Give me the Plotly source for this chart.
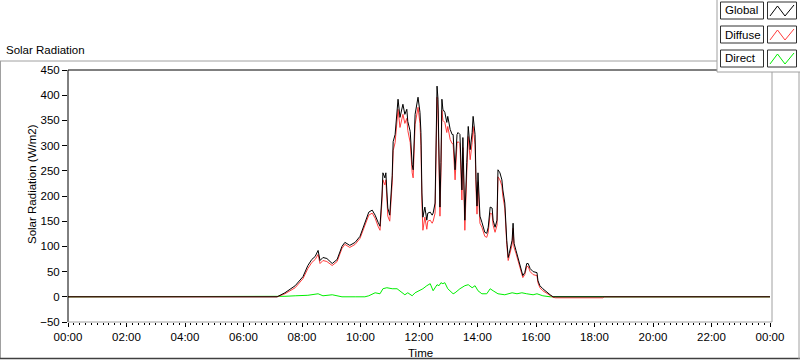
import plotly.graph_objects as go

# ---------------- data ----------------
minutes = [0, 429, 445, 466, 482, 492, 500, 507, 513, 517, 523, 531, 542, 552, 562, 568, 578, 589, 599,
           609, 617, 624, 630, 636, 640, 644, 646, 650, 652, 656, 660, 665, 667, 671, 675, 677, 681, 685,
           687, 691, 695, 697, 702, 706, 708, 712, 716, 718, 722, 724, 726, 728, 732, 736, 738, 743, 747,
           749, 753, 757, 759, 761, 763, 765, 767, 769, 773, 777, 779, 784, 788, 790, 794, 798, 800, 804,
           808, 810, 814, 818, 821, 825, 829, 831, 835, 837, 839, 841, 843, 845, 849, 855, 859, 862, 866,
           870, 872, 876, 880, 882, 886, 890, 892, 896, 900, 903, 905, 911, 913, 915, 919, 923, 927, 931,
           933, 937, 941, 944, 948, 954, 962, 964, 968, 974, 983, 989, 995, 1000, 1097, 1100, 1440]

global_wm2 = [0, 0, 8, 22, 40, 62, 74, 80, 92, 72, 78, 76, 66, 74, 100, 108, 102, 108, 120,
              148, 168, 172, 162, 148, 140, 200, 246, 236, 246, 176, 162, 240, 308, 322, 382, 392, 356, 376,
              382, 362, 372, 348, 328, 262, 252, 362, 382, 396, 366, 326, 206, 158, 178, 152, 166, 168, 162,
              166, 186, 418, 392, 246, 178, 266, 392, 372, 366, 346, 358, 332, 322, 322, 252, 322, 326, 322,
              212, 316, 152, 266, 338, 292, 326, 358, 322, 232, 180, 246, 198, 160, 148, 128, 126, 138, 178,
              176, 152, 138, 152, 252, 246, 232, 212, 186, 112, 78, 86, 112, 146, 106, 92, 78, 66, 48,
              42, 48, 66, 66, 56, 50, 48, 32, 22, 16, 8, 4, 0, 0, 0, 0, 0]

diffuse_wm2 = [0, 0, 6, 18, 36, 56, 68, 74, 84, 66, 72, 70, 62, 70, 96, 104, 98, 104, 116,
               142, 162, 166, 156, 140, 132, 188, 232, 222, 232, 160, 150, 226, 290, 306, 360, 372, 336, 356,
               362, 344, 354, 330, 306, 246, 236, 342, 362, 376, 344, 300, 186, 132, 158, 134, 150, 152, 146,
               150, 166, 396, 370, 226, 160, 246, 370, 350, 346, 326, 338, 312, 304, 304, 232, 304, 308, 304,
               192, 296, 132, 246, 318, 272, 306, 338, 302, 214, 164, 228, 182, 146, 138, 120, 118, 128, 166,
               164, 142, 128, 142, 238, 232, 220, 200, 176, 104, 72, 80, 104, 136, 98, 86, 72, 62, 44,
               38, 44, 60, 60, 50, 44, 42, 28, 18, 12, 6, 2, -1, -2, -2, 0, 0]

direct_minutes = [0, 429, 445, 466, 482, 492, 513, 523, 542, 552, 562, 589, 609, 617, 624, 630, 640, 646,
                  654, 665, 675, 685, 691, 697, 706, 712, 722, 728, 736, 743, 749, 757, 761, 765, 769, 773,
                  779, 784, 790, 794, 804, 814, 821, 829, 835, 841, 849, 859, 866, 872, 882, 896, 911, 921,
                  931, 941, 954, 962, 974, 989, 1440]
direct_wm2 = [0, 0, 1, 2, 2, 3, 6, 2, 4, 2, 0, 0, 0, 2, 6, 8, 6, 16,
              18, 16, 16, 8, 4, 8, 2, 8, 12, 16, 22, 26, 12, 24, 22, 28, 26, 28,
              16, 12, 6, 8, 16, 22, 24, 18, 22, 12, 6, 6, 16, 12, 6, 4, 8, 6,
              8, 6, 4, 6, 2, 0, 0]

tick_minutes = list(range(0, 1441, 120))
tick_labels = ["00:00", "02:00", "04:00", "06:00", "08:00", "10:00", "12:00",
               "14:00", "16:00", "18:00", "20:00", "22:00", "00:00"]
y_ticks = list(range(-50, 451, 50))

series_names = ["Global", "Diffuse", "Direct"]
series_colors = ["#000000", "#ff3c3c", "#00ee00"]

FONT = "Liberation Sans"
FS = 11.5

# ---------------- figure ----------------
fig = go.Figure()
# draw order: direct, diffuse, global on top
fig.add_trace(go.Scatter(x=direct_minutes, y=direct_wm2, mode="lines", name=series_names[2],
                         line=dict(color=series_colors[2], width=1), showlegend=False))
fig.add_trace(go.Scatter(x=minutes, y=diffuse_wm2, mode="lines", name=series_names[1],
                         line=dict(color=series_colors[1], width=1), showlegend=False))
fig.add_trace(go.Scatter(x=minutes, y=global_wm2, mode="lines", name=series_names[0],
                         line=dict(color=series_colors[0], width=1), showlegend=False))

L, R, T, B = 68, 770, 70, 322
W, H = 800, 361


def PX(x):
    return (x - L) / (R - L)


def PY(y):
    return (B - y) / (B - T)


shapes = []


def line(x0, y0, x1, y1, color, width=1):
    shapes.append(dict(type="line", xref="paper", yref="paper", x0=PX(x0), y0=PY(y0),
                       x1=PX(x1), y1=PY(y1), line=dict(color=color, width=width), layer="above"))


def rect(x0, y0, x1, y1, lc, fill="white", width=1):
    shapes.append(dict(type="rect", xref="paper", yref="paper", x0=PX(x0), y0=PY(y0),
                       x1=PX(x1), y1=PY(y1), line=dict(color=lc, width=width), fillcolor=fill,
                       layer="above"))


# outer frame
line(0, 61, 717, 61, "#a0a0a0")
line(0.5, 61, 0.5, 359, "#a0a0a0")
line(0, 358.5, 800, 358.5, "#404040", 1.5)
line(799, 72, 799, 359, "#a0a0a0")
# plot frame
line(L, T, 772, T, "#000000")
line(L, T, L, B, "#000000")
line(L, B, 772, B, "#a0a0a0")
line(772, T, 772, B, "#a0a0a0")

# legend panel
rect(717, -2, 802, 72, "#a0a0a0")
annotations = []
row_tops = [2, 26, 50]
for name, color, top in zip(series_names, series_colors, row_tops):
    rect(720.5, top, 763.5, top + 17, "#303030")
    rect(767.5, top, 796.5, top + 17, "#303030")
    zig = [(770, top + 14), (777.5, top + 4), (785, top + 14), (794, top + 3)]
    path = "M " + " L ".join(f"{PX(a):.5f},{PY(b):.5f}" for a, b in zig)
    shapes.append(dict(type="path", xref="paper", yref="paper", path=path,
                       line=dict(color=color, width=1), layer="above"))
    annotations.append(dict(text=name, xref="paper", yref="paper", x=PX(723), y=PY(top + 8.5),
                            xanchor="left", yanchor="middle", showarrow=False,
                            font=dict(family=FONT, size=FS, color="#000")))

annotations.append(dict(text="Solar Radiation", xref="paper", yref="paper", x=PX(4), y=PY(50),
                        xanchor="left", yanchor="middle", showarrow=False,
                        font=dict(family=FONT, size=FS, color="#000")))
annotations.append(dict(text="Solar Radiation (W/m2)", xref="paper", yref="paper", x=PX(32), y=PY(184),
                        xanchor="center", yanchor="middle", textangle=-90, showarrow=False,
                        font=dict(family=FONT, size=FS, color="#000")))
annotations.append(dict(text="Time", xref="paper", yref="paper", x=PX(420), y=PY(353),
                        xanchor="center", yanchor="middle", showarrow=False,
                        font=dict(family=FONT, size=FS, color="#000")))

fig.update_layout(
    width=W, height=H,
    margin=dict(l=L, r=W - R, t=T, b=H - B, pad=0),
    paper_bgcolor="white", plot_bgcolor="white",
    showlegend=False,
    shapes=shapes, annotations=annotations,
    font=dict(family=FONT, size=FS, color="#000"),
    xaxis=dict(range=[0, 1440], tickmode="array", tickvals=tick_minutes, ticktext=tick_labels,
               ticks="outside", ticklen=4, tickwidth=1, tickcolor="#000", showgrid=False,
               zeroline=False, showline=False,
               minor=dict(tickmode="linear", tick0=0, dtick=12, ticks="outside", ticklen=2,
                          tickcolor="#000", showgrid=False),
               tickfont=dict(family=FONT, size=FS, color="#000")),
    yaxis=dict(range=[-50, 450], tickmode="array", tickvals=y_ticks,
               ticks="outside", ticklen=5, tickwidth=1, tickcolor="#000", showgrid=False,
               zeroline=False, showline=False,
               tickfont=dict(family=FONT, size=FS, color="#000")),
)

fig.write_html("out.html", config={"displayModeBar": False},
               post_script="document.body.style.margin='0';document.body.style.overflow='hidden';")
